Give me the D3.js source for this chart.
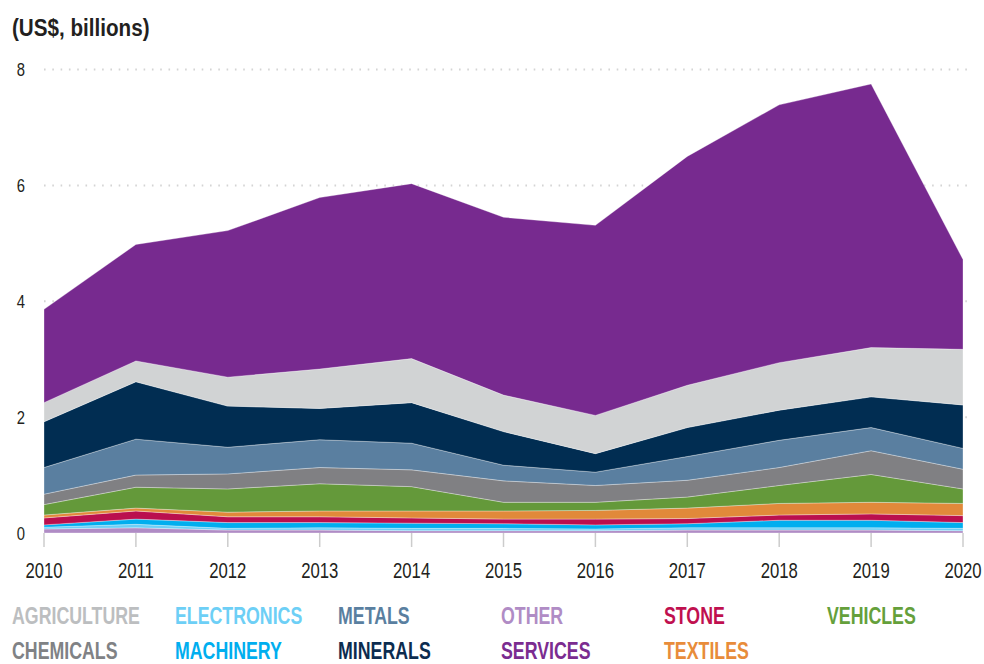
<!DOCTYPE html>
<html>
<head>
<meta charset="utf-8">
<script src="https://cdn.jsdelivr.net/npm/d3@7"></script>
<style>
  html, body { margin: 0; padding: 0; background: #fff; }
  svg text { font-family: "Liberation Sans", Arial, sans-serif; }
</style>
</head>
<body>
<svg id="chart" width="984" height="664"></svg>
<script>
// Exports by sector, US$ billions
const years = [2010, 2011, 2012, 2013, 2014, 2015, 2016, 2017, 2018, 2019, 2020];

const other       = [0.07, 0.09, 0.05, 0.05, 0.04, 0.04, 0.04, 0.05, 0.05, 0.05, 0.04];
const electronics = [0.03, 0.06, 0.03, 0.04, 0.04, 0.04, 0.03, 0.04, 0.04, 0.04, 0.04];
const machinery   = [0.04, 0.09, 0.10, 0.09, 0.09, 0.08, 0.07, 0.07, 0.13, 0.13, 0.10];
const stone       = [0.12, 0.14, 0.10, 0.10, 0.09, 0.08, 0.10, 0.09, 0.09, 0.11, 0.12];
const textiles    = [0.05, 0.05, 0.08, 0.10, 0.12, 0.14, 0.15, 0.18, 0.20, 0.20, 0.21];
const vehicles    = [0.18, 0.36, 0.40, 0.47, 0.42, 0.15, 0.14, 0.19, 0.31, 0.48, 0.25];
const chemicals   = [0.18, 0.21, 0.26, 0.28, 0.29, 0.37, 0.29, 0.29, 0.31, 0.41, 0.34];
const metals      = [0.46, 0.62, 0.46, 0.48, 0.46, 0.27, 0.23, 0.41, 0.47, 0.40, 0.36];
const minerals    = [0.79, 0.99, 0.71, 0.54, 0.70, 0.58, 0.32, 0.50, 0.52, 0.53, 0.75];
const agriculture = [0.33, 0.36, 0.50, 0.68, 0.76, 0.63, 0.66, 0.73, 0.82, 0.85, 0.96];
const services    = [1.61, 2.01, 2.53, 2.96, 3.02, 3.07, 3.28, 3.95, 4.45, 4.55, 1.55];

const yTicks = [0, 2, 4, 6, 8];

// Stack order, bottom to top
const seriesKeys = ["other", "electronics", "machinery", "stone", "textiles", "vehicles",
                    "chemicals", "metals", "minerals", "agriculture", "services"];
const seriesValues = { other, electronics, machinery, stone, textiles, vehicles,
                       chemicals, metals, minerals, agriculture, services };

const fillColors = {
  other: "#b08cc5", electronics: "#6dcff6", machinery: "#00aeef", stone: "#ba0f4e",
  textiles: "#e1893a", vehicles: "#64993a", chemicals: "#808083", metals: "#5a7fa0",
  minerals: "#012d52", agriculture: "#d1d3d4", services: "#772a8f"
};
const legendColors = {
  agriculture: "#bcbec0", chemicals: "#808285", electronics: "#6dcff6", machinery: "#00aeef",
  metals: "#5a7fa0", minerals: "#0c2c4f", other: "#b08cc5", services: "#7b2c90",
  stone: "#c0104f", textiles: "#e88c3a", vehicles: "#65a03b"
};
const legendOrder = ["agriculture", "chemicals", "electronics", "machinery", "metals", "minerals",
                     "other", "services", "stone", "textiles", "vehicles"];

const rows = years.map((yr, i) => {
  const r = { year: yr };
  seriesKeys.forEach(k => { r[k] = seriesValues[k][i]; });
  return r;
});

const svg = d3.select("#chart");

const x = d3.scalePoint().domain(years).range([44, 963]);
const y = d3.scaleLinear().domain([0, 8]).range([533, 69.5]);

// Condensed lettering: place text at (px, py) and narrow it horizontally
const narrow = (px, py, s) => `translate(${px},${py}) scale(${s},1)`;

// Dotted gridlines
svg.append("g")
  .selectAll("line")
  .data(yTicks.filter(d => d > 0))
  .join("line")
  .attr("x1", 44).attr("x2", 970)
  .attr("y1", d => y(d)).attr("y2", d => y(d))
  .attr("stroke", "#d4d4d4")
  .attr("stroke-width", 2)
  .attr("stroke-dasharray", "1.6,6.7");

// Stacked areas
const stacked = d3.stack().keys(seriesKeys)(rows);
const area = d3.area()
  .x(d => x(d.data.year))
  .y0(d => y(d[0]))
  .y1(d => y(d[1]));

svg.append("g")
  .selectAll("path")
  .data(stacked)
  .join("path")
  .attr("d", area)
  .attr("fill", d => fillColors[d.key])
  .attr("stroke", "rgba(255,255,255,0.45)")
  .attr("stroke-width", 0.7);

// Y axis labels
svg.append("g")
  .selectAll("text")
  .data(yTicks)
  .join("text")
  .attr("transform", d => narrow(25, y(d), 0.78))
  .attr("dy", "0.35em")
  .attr("text-anchor", "end")
  .attr("font-size", 19)
  .attr("fill", "#231f20")
  .text(d => d);

// X axis ticks and labels
const xAxis = svg.append("g");
xAxis.selectAll("line")
  .data(years)
  .join("line")
  .attr("x1", d => x(d)).attr("x2", d => x(d))
  .attr("y1", 533).attr("y2", 547)
  .attr("stroke", "#cccccc")
  .attr("stroke-width", 1.5);
xAxis.selectAll("text")
  .data(years)
  .join("text")
  .attr("transform", d => narrow(x(d), 578, 0.76))
  .attr("text-anchor", "middle")
  .attr("font-size", 22)
  .attr("fill", "#231f20")
  .text(d => d);

// Unit title
svg.append("text")
  .attr("transform", narrow(12, 36, 0.86))
  .attr("font-size", 24)
  .attr("font-weight", "bold")
  .attr("fill", "#231f20")
  .text("(US$, billions)");

// Legend: two rows, filled column by column
svg.append("g")
  .selectAll("text")
  .data(legendOrder)
  .join("text")
  .attr("transform", (d, i) => narrow(12 + Math.floor(i / 2) * 163, i % 2 === 0 ? 624 : 659, 0.74))
  .attr("font-size", 24)
  .attr("font-weight", "bold")
  .attr("fill", d => legendColors[d])
  .text(d => d.toUpperCase());
</script>
</body>
</html>
